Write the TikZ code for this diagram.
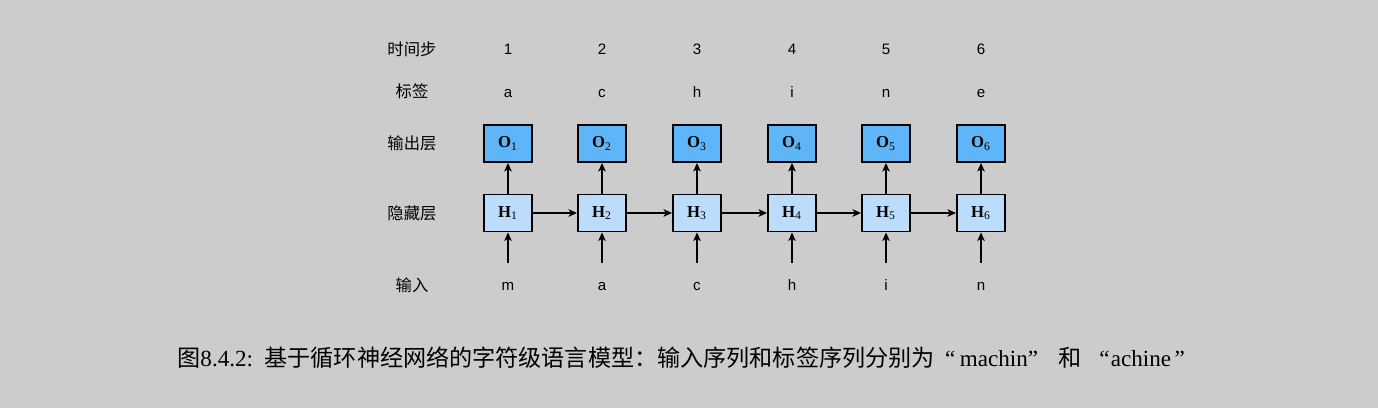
\documentclass[tikz,border=0pt]{standalone}
\usepackage{fontspec}
\setmainfont{Liberation Serif}
\setsansfont{Liberation Sans}
\newfontfamily\cjk{Noto Sans CJK SC}
\usepackage{tikz}
\usetikzlibrary{positioning, arrows.meta}
\usepackage{xcolor}
\definecolor{bggray}{RGB}{204, 204, 204}
\definecolor{outblue}{RGB}{94, 181, 247}
\definecolor{hidblue}{RGB}{187, 221, 251}

\begin{document}
\begin{tikzpicture}[
    x=0.02cm, y=-0.02cm,
    cell/.style={rectangle, draw=black, line width=1.1pt, minimum width=0.96cm, minimum height=0.74cm, inner sep=0pt, align=center, font=\fontsize{9.5}{11}\selectfont},
    outcell/.style={cell, fill=outblue},
    hidcell/.style={cell, fill=hidblue},
    rowlabel/.style={anchor=base, inner sep=0pt, font=\cjk\fontsize{9.3}{11}\selectfont},
    tok/.style={anchor=base, inner sep=0pt, font=\sffamily\fontsize{8.6}{10}\selectfont},
    arrow/.style={-{Stealth[length=0.17cm, width=0.15cm, inset=0.045cm]}, line width=1.1pt}
]
    \fill[bggray] (0,0) rectangle (1378,408);
    \useasboundingbox (0,0) rectangle (1378,408);

    % row labels
    \node[rowlabel] (lstep) at (412,55.5) {时间步};
    \node[rowlabel] (ltag) at (412,98) {标签};
    \node[rowlabel] (lout) at (412,149.5) {输出层};
    \node[rowlabel] (lhid) at (412,219.5) {隐藏层};
    \node[rowlabel] (lin) at (412,292) {输入};

    % time steps
    \node[tok] (t1) at (508,55) {1};
    \node[tok] (t2) at (602,55) {2};
    \node[tok] (t3) at (697,55) {3};
    \node[tok] (t4) at (792,55) {4};
    \node[tok] (t5) at (886,55) {5};
    \node[tok] (t6) at (981,55) {6};

    % labels
    \node[tok] (y1) at (508,97.5) {a};
    \node[tok] (y2) at (602,97.5) {c};
    \node[tok] (y3) at (697,97.5) {h};
    \node[tok] (y4) at (792,97.5) {i};
    \node[tok] (y5) at (886,97.5) {n};
    \node[tok] (y6) at (981,97.5) {e};

    % output layer
    \node[outcell] (o1) at (508,143.5) {\textbf{O}\textsubscript{1}};
    \node[outcell] (o2) at (602,143.5) {\textbf{O}\textsubscript{2}};
    \node[outcell] (o3) at (697,143.5) {\textbf{O}\textsubscript{3}};
    \node[outcell] (o4) at (792,143.5) {\textbf{O}\textsubscript{4}};
    \node[outcell] (o5) at (886,143.5) {\textbf{O}\textsubscript{5}};
    \node[outcell] (o6) at (981,143.5) {\textbf{O}\textsubscript{6}};

    % hidden layer
    \node[hidcell] (h1) at (508,213) {\textbf{H}\textsubscript{1}};
    \node[hidcell] (h2) at (602,213) {\textbf{H}\textsubscript{2}};
    \node[hidcell] (h3) at (697,213) {\textbf{H}\textsubscript{3}};
    \node[hidcell] (h4) at (792,213) {\textbf{H}\textsubscript{4}};
    \node[hidcell] (h5) at (886,213) {\textbf{H}\textsubscript{5}};
    \node[hidcell] (h6) at (981,213) {\textbf{H}\textsubscript{6}};

    % inputs
    \node[tok] (x1) at (508,291) {m};
    \node[tok] (x2) at (602,291) {a};
    \node[tok] (x3) at (697,291) {c};
    \node[tok] (x4) at (792,291) {h};
    \node[tok] (x5) at (886,291) {i};
    \node[tok] (x6) at (981,291) {n};

    \coordinate (s1) at (508,263);
    \coordinate (s2) at (602,263);
    \coordinate (s3) at (697,263);
    \coordinate (s4) at (792,263);
    \coordinate (s5) at (886,263);
    \coordinate (s6) at (981,263);

    \draw[arrow] (s1) -- (h1);
    \draw[arrow] (s2) -- (h2);
    \draw[arrow] (s3) -- (h3);
    \draw[arrow] (s4) -- (h4);
    \draw[arrow] (s5) -- (h5);
    \draw[arrow] (s6) -- (h6);

    \draw[arrow] (h1) -- (o1);
    \draw[arrow] (h2) -- (o2);
    \draw[arrow] (h3) -- (o3);
    \draw[arrow] (h4) -- (o4);
    \draw[arrow] (h5) -- (o5);
    \draw[arrow] (h6) -- (o6);

    \draw[arrow] (h1) -- (h2);
    \draw[arrow] (h2) -- (h3);
    \draw[arrow] (h3) -- (h4);
    \draw[arrow] (h4) -- (h5);
    \draw[arrow] (h5) -- (h6);

    % caption
    \node[anchor=base west, inner sep=0pt, font=\fontsize{13.15}{15}\selectfont] (cap) at (177,366)
        {{\cjk 图}8.4.2:\hspace{0.5em}{\cjk 基于循环神经网络的字符级语言模型：输入序列和标签序列分别为}\hspace{0.45em}“\hspace{0.2em}machin”\hspace{0.9em}{\cjk 和}\hspace{0.75em}“\hspace{0.05em}achine\hspace{0.15em}”};
\end{tikzpicture}
\end{document}
